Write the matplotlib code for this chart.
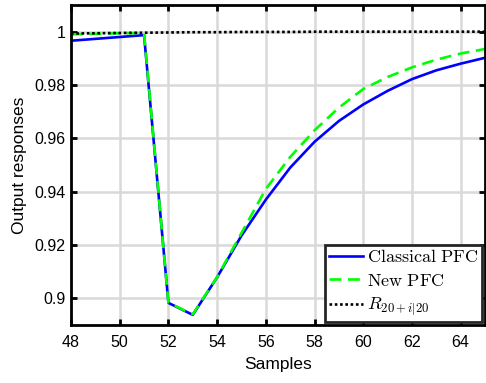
import matplotlib
matplotlib.use("Agg")
import matplotlib.pyplot as plt
import numpy as np

plt.rcParams['mathtext.fontset'] = 'cm'
plt.rcParams['font.family'] = ['Liberation Sans', 'DejaVu Sans']

samples = [48, 49, 50, 51, 52, 53, 54, 55, 56, 57, 58, 59, 60, 61, 62, 63, 64, 65]
classical = [0.9966, 0.9973, 0.9980, 0.9987, 0.8983, 0.8938, 0.9079, 0.9235, 0.9370,
             0.9490, 0.9587, 0.9665, 0.9727, 0.9778, 0.9822, 0.9855, 0.9880, 0.9902]
new_pfc = [0.9990, 0.9992, 0.9994, 0.9995, 0.8983, 0.8940, 0.9080, 0.9245, 0.9410,
           0.9530, 0.9630, 0.9715, 0.9785, 0.9830, 0.9866, 0.9895, 0.9918, 0.9935]
reference = [0.9993, 0.9994, 0.9995, 0.9996, 0.9997, 0.9998, 0.9998, 0.9999, 0.9999,
             0.9999, 1.0, 1.0, 1.0, 1.0, 1.0, 1.0, 1.0, 1.0]

xticks = [48, 50, 52, 54, 56, 58, 60, 62, 64]
yticks = [0.9, 0.92, 0.94, 0.96, 0.98, 1.0]
ytick_labels = ['0.9', '0.92', '0.94', '0.96', '0.98', '1']
legend_labels = [r'$\mathrm{Classical\ PFC}$', r'$\mathrm{New\ PFC}$', r'$R_{20+i|20}$']

fig = plt.figure(figsize=(4.86, 3.83), dpi=100)
ax = fig.add_axes([71/486, 1 - 325/383, 414/486, 320/383])

ax.plot(samples, classical, color='#0000ff', lw=1.9, label=legend_labels[0])
ax.plot(samples, new_pfc, color='#00ff00', lw=1.9, ls=(0, (4.5, 2.5)), label=legend_labels[1])
ax.plot(samples, reference, color='black', lw=1.9, ls=(0, (1, 1)), label=legend_labels[2])

ax.set_xlim(48, 65)
ax.set_ylim(0.89, 1.01)
ax.set_xticks(xticks)
ax.set_yticks(yticks)
ax.set_yticklabels(ytick_labels)
ax.grid(True, color='#d9d9d9', lw=1.8)
ax.set_axisbelow(True)
for s in ax.spines.values():
    s.set_linewidth(2.0)
    s.set_color('black')
ax.tick_params(direction='in', top=True, right=True, length=4, width=2.0,
               labelsize=11.5, color='black')
ax.tick_params(axis='x', pad=7)
ax.tick_params(axis='y', pad=4)
ax.set_xlabel('Samples', fontsize=12.5, labelpad=5)
ax.set_ylabel('Output responses', fontsize=12.5, labelpad=5)

leg = ax.legend(loc='lower right', fontsize=13, frameon=True, fancybox=False,
                edgecolor='#262626', framealpha=1, handlelength=1.9, handletextpad=0.2,
                labelspacing=0.35, borderpad=0.22, borderaxespad=0.15)
leg.get_frame().set_linewidth(2.0)

fig.savefig('out.png', dpi=100)
